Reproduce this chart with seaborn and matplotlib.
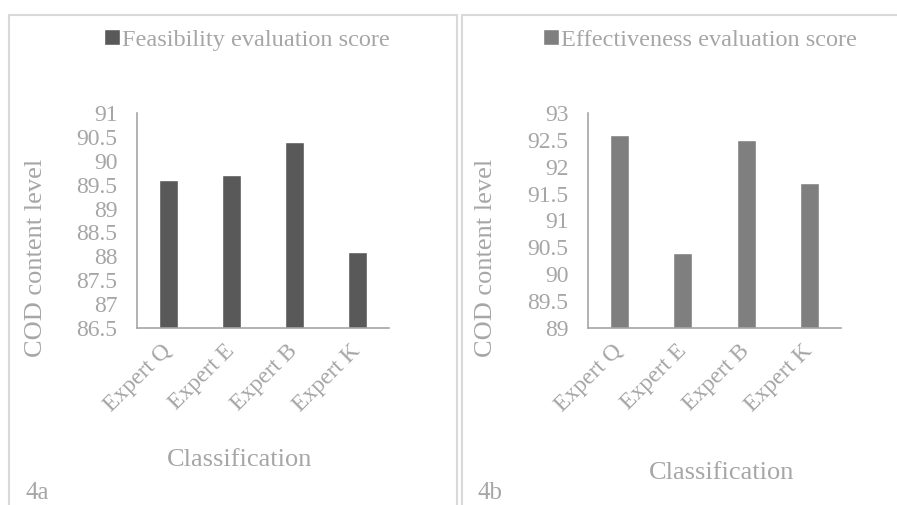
import pandas as pd
import numpy as np
import seaborn as sns
import matplotlib.pyplot as plt
from matplotlib.patches import Rectangle

experts = ["Expert Q", "Expert E", "Expert B", "Expert K"]
feasibility = [89.6, 89.7, 90.4, 88.1]
effectiveness = [92.6, 90.4, 92.5, 91.7]
left_ticks = [86.5, 87, 87.5, 88, 88.5, 89, 89.5, 90, 90.5, 91]
right_ticks = [89, 89.5, 90, 90.5, 91, 91.5, 92, 92.5, 93]

TXT = "#a6a6a6"
AX = "#a6a6a6"
BORDER = "#d9d9d9"

sns.set_style("white")
plt.rcParams['font.family'] = ['Liberation Serif', 'DejaVu Serif']

W, H = 897, 505
fig = plt.figure(figsize=(W / 100, H / 100), dpi=100)

def fx(px):
    return px / W

def fy(py):
    return (H - py) / H

# panel frames
fig.patches.append(Rectangle((fx(9), fy(520)), fx(457) - fx(9), fy(15) - fy(520),
                             transform=fig.transFigure, fill=False, ec=BORDER, lw=1.5))
fig.patches.append(Rectangle((fx(462), fy(520)), fx(910) - fx(462), fy(15) - fy(520),
                             transform=fig.transFigure, fill=False, ec=BORDER, lw=1.5))

def panel(x0, x1, values, color, label, ticks, leg_x, ylab_x, xlab_xy, tag, tag_x):
    ax = fig.add_axes([fx(x0), fy(328), fx(x1) - fx(x0), fy(113) - fy(328)])
    df = pd.DataFrame({"expert": experts, "score": values})
    sns.barplot(data=df, x="expert", y="score", color=color, width=0.3,
                saturation=1, label=label, ax=ax)
    ax.set_ylim(ticks[0], ticks[-1])
    ax.set_yticks(ticks)
    ax.set_yticklabels([f"{t:g}" for t in ticks], fontsize=17, color=TXT)
    ax.set_xticks(range(len(experts)))
    ax.set_xticklabels(experts, rotation=45, ha="right", va="center",
                       rotation_mode="anchor", fontsize=17, color=TXT)
    ax.tick_params(axis="x", length=0, pad=14)
    ax.tick_params(axis="y", length=5, width=1, color=AX, direction="out", pad=9)
    for s in ["top", "right"]:
        ax.spines[s].set_visible(False)
    for s in ["left", "bottom"]:
        ax.spines[s].set_color(AX)
        ax.spines[s].set_linewidth(1.2)
    ax.set_xlabel("")
    ax.set_ylabel("")
    fig.text(fx(ylab_x), fy(258), "COD content level", rotation=90, fontsize=19,
             color=TXT, ha="center", va="center")
    fig.text(fx(xlab_xy[0]), fy(xlab_xy[1]), "Classification", fontsize=19,
             color=TXT, ha="center", va="center")
    fig.text(fx(tag_x), fy(493), tag, fontsize=18, color=TXT, ha="left", va="center")
    ax.legend(loc="center", bbox_to_anchor=(fx(leg_x), fy(40)), bbox_transform=fig.transFigure,
              frameon=False, fontsize=17.5, labelcolor=TXT, handlelength=0.65,
              handleheight=0.65, handletextpad=0.1, borderpad=0)
    return ax

panel(137, 389, feasibility, "#595959", "Feasibility evaluation score",
      left_ticks, 247, 36, (240, 460), "4a", 25)
panel(588, 841, effectiveness, "#7f7f7f", "Effectiveness evaluation score",
      right_ticks, 700, 486, (722, 473), "4b", 477)

fig.savefig("out.png", dpi=100)
